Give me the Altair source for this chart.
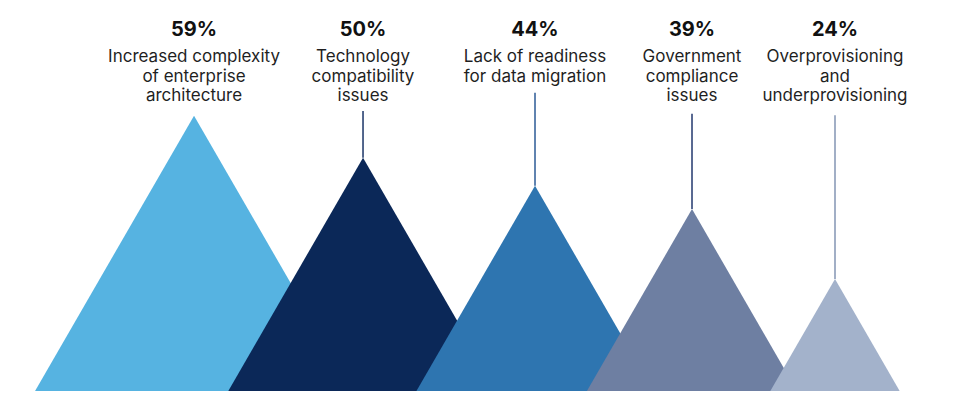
import altair as alt
import pandas as pd
import math

# ---- data ----
values = [59, 50, 44, 39, 24]
pct_labels = ["59%", "50%", "44%", "39%", "24%"]
categories = [
    "Increased complexity\nof enterprise\narchitecture",
    "Technology\ncompatibility\nissues",
    "Lack of readiness\nfor data migration",
    "Government\ncompliance\nissues",
    "Overprovisioning\nand\nunderprovisioning",
]

# ---- layout (in value units, same scale on both axes) ----
centers = [39.86, 76.07, 112.92, 146.56, 177.20]
stem_tops = [None, 60.0, 63.9, 59.4, 59.1]
fills = ["#56B3E1", "#0B2858", "#2E75B0", "#6E7FA2", "#A3B2CB"]
stem_colors = ["#56B3E1", "#1B3567", "#2C5A96", "#22386E", "#8394B3"]

W, H = 956, 397
xdom = [0, 204.84]
ydom = [-3.0, 82.07]
xs = alt.Scale(domain=xdom, nice=False, zero=False)
ys = alt.Scale(domain=ydom, nice=False, zero=False)

layers = []
for i, v in enumerate(values):
    half = v / math.sqrt(3)
    c = centers[i]
    tri = pd.DataFrame({"tx": [c - half, c, c + half], "ty": [0, v, 0], "tb": [0, 0, 0]})
    layers.append(
        alt.Chart(tri).mark_area(color=fills[i], opacity=1, interpolate="linear").encode(
            x=alt.X("tx:Q", scale=xs, axis=None),
            y=alt.Y("ty:Q", scale=ys, axis=None, stack=None),
            y2=alt.Y2("tb:Q"),
        )
    )

stems = pd.DataFrame({
    "x": [centers[i] for i in range(5) if stem_tops[i] is not None],
    "top": [stem_tops[i] for i in range(5) if stem_tops[i] is not None],
    "v": [values[i] for i in range(5) if stem_tops[i] is not None],
    "col": [stem_colors[i] for i in range(5) if stem_tops[i] is not None],
})
stem_layer = alt.Chart(stems).mark_rule(strokeWidth=1.5).encode(
    x=alt.X("x:Q", scale=xs, axis=None),
    y=alt.Y("top:Q", scale=ys, axis=None),
    y2=alt.Y2("v:Q"),
    color=alt.Color("col:N", scale=None),
)

labels = pd.DataFrame({"x": centers, "pct": pct_labels, "cat": categories})
pct_layer = alt.Chart(labels).mark_text(
    font="Inter", fontSize=20, fontWeight="bold", color="#111111",
    align="center", baseline="alphabetic",
).encode(
    x=alt.X("x:Q", scale=xs, axis=None),
    y=alt.value(28),
    text="pct:N",
)
cat_layer = alt.Chart(labels).mark_text(
    font="Inter", fontSize=17, color="#1f1f1f", lineBreak="\n", lineHeight=19.5,
    align="center", baseline="alphabetic",
).encode(
    x=alt.X("x:Q", scale=xs, axis=None),
    y=alt.value(54),
    text="cat:N",
)

chart = alt.layer(*layers, stem_layer, pct_layer, cat_layer).properties(
    width=W, height=H, padding=0, background="white",
    autosize=alt.AutoSizeParams(type="none"),
).configure_view(stroke=None)

chart.save("out.html", embed_options={"renderer": "svg", "actions": False})
